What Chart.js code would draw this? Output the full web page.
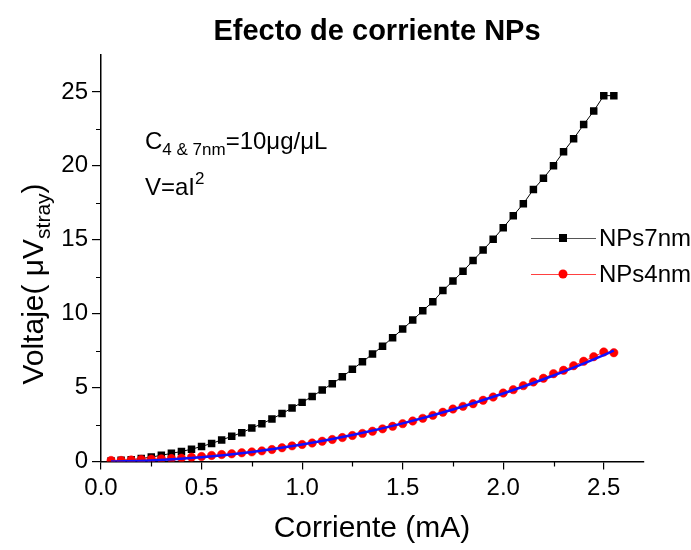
<!DOCTYPE html>
<html lang="es">
<head>
    <meta charset="UTF-8">
    <title>Efecto de corriente NPs</title>
    <script src="https://cdn.jsdelivr.net/npm/chart.js"></script>
    <style>
        body {
            margin: 0;
            background: #ffffff;
        }
        #wrap {
            width: 691px;
            height: 550px;
        }
    </style>
</head>
<body>
    <div id="wrap"><canvas id="myChart" width="691" height="550"></canvas></div>

    <script>
        // datos
        const corriente = [0.05, 0.10, 0.15, 0.20, 0.25, 0.30, 0.35, 0.40, 0.45, 0.50,
            0.55, 0.60, 0.65, 0.70, 0.75, 0.80, 0.85, 0.90, 0.95, 1.00,
            1.05, 1.10, 1.15, 1.20, 1.25, 1.30, 1.35, 1.40, 1.45, 1.50,
            1.55, 1.60, 1.65, 1.70, 1.75, 1.80, 1.85, 1.90, 1.95, 2.00,
            2.05, 2.10, 2.15, 2.20, 2.25, 2.30, 2.35, 2.40, 2.45, 2.50, 2.55];
        const voltaje7nm = [0.04, 0.08, 0.12, 0.20, 0.30, 0.42, 0.55, 0.68, 0.83, 1.02,
            1.22, 1.46, 1.70, 1.95, 2.26, 2.55, 2.88, 3.24, 3.62, 4.00,
            4.40, 4.84, 5.26, 5.74, 6.24, 6.74, 7.27, 7.80, 8.38, 8.96,
            9.57, 10.20, 10.81, 11.56, 12.21, 12.87, 13.59, 14.31, 15.03, 15.82,
            16.63, 17.44, 18.40, 19.16, 20.01, 20.96, 21.84, 22.79, 23.71, 24.75, 24.75];
        const voltaje4nm = [0.07, 0.07, 0.10, 0.14, 0.16, 0.18, 0.20, 0.23, 0.29, 0.34,
            0.41, 0.47, 0.52, 0.59, 0.65, 0.72, 0.81, 0.93, 1.06, 1.15,
            1.25, 1.37, 1.49, 1.62, 1.76, 1.90, 2.05, 2.21, 2.38, 2.56,
            2.74, 2.92, 3.12, 3.33, 3.55, 3.73, 3.91, 4.14, 4.36, 4.63,
            4.86, 5.13, 5.38, 5.63, 5.94, 6.17, 6.48, 6.78, 7.09, 7.41, 7.36];
        // ajuste V = aI^2 (linea azul)
        const ajusteI = [0.05, 0.25, 0.50, 0.75, 1.00, 1.25, 1.50, 1.75, 2.00, 2.25, 2.50, 2.55];
        const ajusteV = [0.00, 0.07, 0.29, 0.65, 1.15, 1.79, 2.58, 3.52, 4.60, 5.82, 7.20, 7.50];

        const minorX = [0.25, 0.75, 1.25, 1.75, 2.25];
        const minorY = [2.5, 7.5, 12.5, 17.5, 22.5];

        const FONT = "'Liberation Sans', Arial, sans-serif";

        function pares(xs, ys) {
            return xs.map((x, i) => ({ x: x, y: ys[i] }));
        }

        // texto con subindice / superindice
        function drawRich(ctx, parts, x, y) {
            let cx = x;
            parts.forEach(p => {
                ctx.font = (p.bold ? 'bold ' : '') + p.size + 'px ' + FONT;
                ctx.fillText(p.t, cx, y + (p.dy || 0));
                cx += ctx.measureText(p.t).width;
            });
            return cx - x;
        }
        function richWidth(ctx, parts) {
            let w = 0;
            parts.forEach(p => {
                ctx.font = p.size + 'px ' + FONT;
                w += ctx.measureText(p.t).width;
            });
            return w;
        }

        const decor = {
            id: 'decor',
            afterDraw(chart) {
                const ctx = chart.ctx;
                const xs = chart.scales.x, ys = chart.scales.y;
                const area = chart.chartArea;
                ctx.save();
                ctx.fillStyle = '#000';
                ctx.strokeStyle = '#000';
                ctx.textBaseline = 'alphabetic';

                // ticks menores
                ctx.lineWidth = 1.2;
                ctx.beginPath();
                minorY.forEach(v => {
                    const py = Math.round(ys.getPixelForValue(v)) + 0.5;
                    ctx.moveTo(area.left - 5, py);
                    ctx.lineTo(area.left, py);
                });
                minorX.forEach(v => {
                    const px = Math.round(xs.getPixelForValue(v)) + 0.5;
                    ctx.moveTo(px, area.bottom);
                    ctx.lineTo(px, area.bottom + 5);
                });
                ctx.stroke();

                // titulo
                ctx.textAlign = 'center';
                ctx.font = 'bold 29px ' + FONT;
                ctx.fillText('Efecto de corriente NPs', 377, 40);

                // titulo eje x
                ctx.font = '30px ' + FONT;
                ctx.fillText('Corriente (mA)', 372, 537);

                // titulo eje y (rotado)
                ctx.textAlign = 'left';
                const yParts = [
                    { t: 'Voltaje( \u03BCV', size: 30 },
                    { t: 'stray', size: 21, dy: 7 },
                    { t: ')', size: 30 }
                ];
                const w = richWidth(ctx, yParts);
                ctx.save();
                ctx.translate(43, 284);
                ctx.rotate(-Math.PI / 2);
                drawRich(ctx, yParts, -w / 2, 0);
                ctx.restore();

                // anotacion
                drawRich(ctx, [
                    { t: 'C', size: 24 },
                    { t: '4 & 7nm', size: 17, dy: 6 },
                    { t: '=10\u03BCg/\u03BCL', size: 24 }
                ], 145, 149);
                drawRich(ctx, [
                    { t: 'V=aI', size: 24 },
                    { t: '2', size: 17, dy: -11 }
                ], 145, 195);

                // leyenda
                const filas = [
                    { label: 'NPs7nm', color: '#000000', line: '#555555', style: 'rect', y: 238 },
                    { label: 'NPs4nm', color: '#ff0000', line: '#ff4040', style: 'circle', y: 274 }
                ];
                filas.forEach(f => {
                    ctx.strokeStyle = f.line;
                    ctx.lineWidth = 1;
                    ctx.beginPath();
                    ctx.moveTo(531, f.y + 0.5);
                    ctx.lineTo(596, f.y + 0.5);
                    ctx.stroke();
                    ctx.fillStyle = f.color;
                    if (f.style === 'rect') {
                        ctx.fillRect(559, f.y - 4, 8, 8);
                    } else {
                        ctx.beginPath();
                        ctx.arc(563, f.y, 4.5, 0, Math.PI * 2);
                        ctx.fill();
                    }
                    ctx.fillStyle = '#000';
                    ctx.font = '24px ' + FONT;
                    ctx.textBaseline = 'middle';
                    ctx.fillText(f.label, 599, f.y + 1);
                    ctx.textBaseline = 'alphabetic';
                });
                ctx.restore();
            }
        };

        const ctx = document.getElementById('myChart').getContext('2d');
        const myChart = new Chart(ctx, {
            type: 'line',
            data: {
                datasets: [
                    {
                        label: 'Ajuste',
                        data: pares(ajusteI, ajusteV),
                        borderColor: '#1010ff',
                        borderWidth: 2.5,
                        pointRadius: 0,
                        cubicInterpolationMode: 'monotone',
                        order: 0
                    },
                    {
                        label: 'NPs4nm',
                        data: pares(corriente, voltaje4nm),
                        borderColor: '#ff3030',
                        borderWidth: 1,
                        pointStyle: 'circle',
                        pointRadius: 4.2,
                        pointBackgroundColor: '#ff0000',
                        pointBorderColor: '#ff0000',
                        pointBorderWidth: 0.5,
                        order: 1
                    },
                    {
                        label: 'NPs7nm',
                        data: pares(corriente, voltaje7nm),
                        borderColor: '#000000',
                        borderWidth: 1,
                        pointStyle: 'rect',
                        pointRadius: 5.3,
                        pointBackgroundColor: '#000000',
                        pointBorderColor: '#000000',
                        pointBorderWidth: 0,
                        order: 2
                    }
                ]
            },
            options: {
                responsive: false,
                animation: false,
                devicePixelRatio: 1,
                layout: {
                    padding: { top: 55, right: 47, left: 0, bottom: 0 }
                },
                plugins: {
                    legend: { display: false },
                    title: { display: false },
                    tooltip: { enabled: false }
                },
                scales: {
                    x: {
                        type: 'linear',
                        min: 0,
                        max: 2.7,
                        afterFit: s => { s.height = 88.5; },
                        border: { display: true, color: '#000', width: 1.5 },
                        grid: { drawOnChartArea: false, drawTicks: true, tickLength: 8, color: '#000', lineWidth: 1.2 },
                        ticks: {
                            stepSize: 0.5,
                            includeBounds: false,
                            color: '#000',
                            padding: 4,
                            maxRotation: 0,
                            font: { family: FONT, size: 24 },
                            callback: v => v.toFixed(1)
                        }
                    },
                    y: {
                        min: 0,
                        max: 27.5,
                        afterFit: s => { s.width = 101; },
                        border: { display: true, color: '#000', width: 1.5 },
                        grid: { drawOnChartArea: false, drawTicks: true, tickLength: 9, color: '#000', lineWidth: 1.2 },
                        ticks: {
                            stepSize: 5,
                            includeBounds: false,
                            color: '#000',
                            padding: 4,
                            font: { family: FONT, size: 24 }
                        }
                    }
                }
            },
            plugins: [decor]
        });
    </script>
</body>
</html>
